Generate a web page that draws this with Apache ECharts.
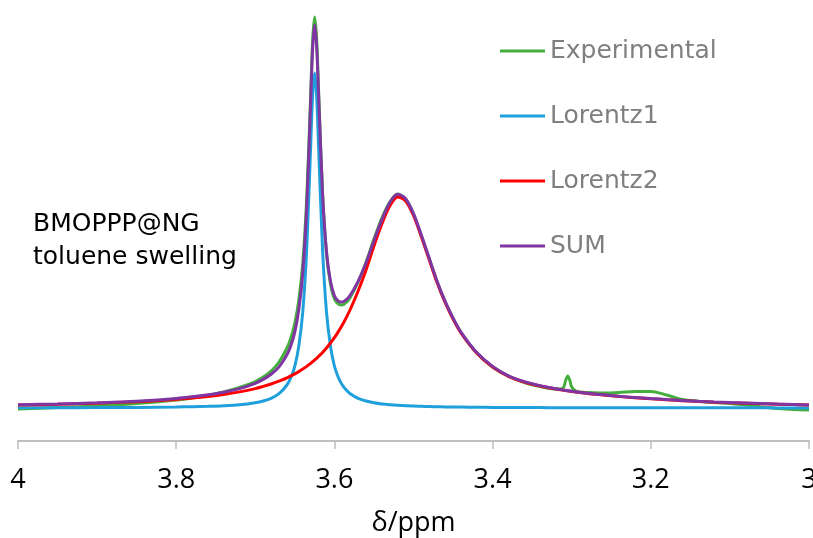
<!DOCTYPE html>
<html>
<head>
<meta charset="utf-8">
<style>
  html, body { margin: 0; padding: 0; background: #fff; overflow: hidden; }
  #chart { width: 813px; height: 538px; }
</style>
<script src="https://cdn.jsdelivr.net/npm/echarts@6/dist/echarts.min.js"></script>
</head>
<body>
<div id="chart"></div>
<script>
// Chemical shift grid (ppm) for fitted curves
var xFit = [4.00,3.95,3.90,3.85,3.80,3.78,3.76,3.74,3.72,3.70,3.69,3.68,3.67,3.66,3.655,3.65,3.645,3.64,3.635,3.63,3.6275,3.625,3.6225,3.62,3.615,3.61,3.605,3.60,3.595,3.59,3.585,3.58,3.57,3.56,3.55,3.54,3.53,3.52,3.51,3.50,3.49,3.48,3.47,3.46,3.45,3.44,3.42,3.40,3.38,3.36,3.34,3.32,3.30,3.28,3.26,3.24,3.22,3.20,3.18,3.16,3.14,3.12,3.10,3.08,3.06,3.04,3.02,3.00];
var lorentz1 = [0.2,0.3,0.4,0.6,1.0,1.3,1.7,2.3,3.3,5.3,7.0,9.7,14.3,23,30.5,42,62,96,159,262,313,335,313,262,159,96,62,42,30.5,23,17.9,14.3,9.7,7.0,5.3,4.1,3.3,2.7,2.3,1.9,1.7,1.4,1.3,1.1,1.0,0.9,0.7,0.6,0.5,0.4,0.4,0.3,0.3,0.3,0.2,0.2,0.2,0.2,0.2,0.2,0.2,0.2,0.2,0.2,0.2,0.1,0.1,0.1];
var lorentz2 = [3.0,3.7,4.8,6.2,8.6,9.9,11.5,13.5,16.1,19.4,21.6,24.0,26.8,30.2,32.1,34.1,36.4,38.9,41.6,44.6,46.3,48.0,49.7,51.6,55.5,60,65,70.3,76.4,83,90.4,98.5,117,138,162,184,202,211,207,192.5,171,148,125,105.5,89,75,54.7,41,31.7,26,22,19,16.5,14.5,13,11.5,10.3,9.2,8.2,7.3,6.5,5.8,5.2,4.7,4.2,3.8,3.4,3.0];
var sumFit = [3.2,4.0,5.2,6.8,9.6,11.2,13.2,15.8,19.4,24.7,28.6,33.7,41.1,53.2,62.6,76.1,98.4,134.9,200.6,306.6,359.3,383,362.7,313.6,214.5,156,127,112.3,106.9,106,108.3,112.8,126.7,145,167.3,188.1,205.3,213.7,209.3,194.4,172.7,149.4,126.3,106.6,90,75.9,55.4,41.6,32.2,26.4,22.4,19.3,16.8,14.8,13.2,11.7,10.5,9.4,8.4,7.5,6.7,6.0,5.4,4.9,4.4,3.9,3.5,3.1];

// Experimental spectrum
var xExp = [4.00,3.95,3.90,3.85,3.80,3.78,3.76,3.74,3.72,3.70,3.69,3.68,3.67,3.66,3.655,3.65,3.645,3.64,3.635,3.63,3.6275,3.625,3.6225,3.62,3.615,3.61,3.605,3.60,3.595,3.59,3.585,3.58,3.57,3.56,3.55,3.54,3.53,3.52,3.51,3.50,3.49,3.48,3.47,3.46,3.45,3.44,3.42,3.40,3.38,3.36,3.34,3.32,3.315,3.31,3.3075,3.305,3.3025,3.30,3.295,3.29,3.28,3.26,3.24,3.22,3.20,3.18,3.16,3.14,3.12,3.10,3.08,3.06,3.04,3.02,3.00];
var yExp = [-1,0.5,2,4.5,8,10,12.5,16,20.5,26.5,31,37,46,60,70,85,108,145,210,314,368,391,370,318,216,155,124,109,104,103,105.5,110.5,126,146,169,190,206,214,209,194,172,149,126,106,89.5,75.5,55,41,32,25.5,21.5,19,19,21,28,32,28,21,17,16,15.5,15,15.5,16.5,16.5,13,8.5,6.8,5.5,4.5,3,1,-0.5,-1.5,-2];

var seriesNames = ['Experimental', 'Lorentz1', 'Lorentz2', 'SUM'];
var seriesColors = ['#45AF3D', '#1F9FDB', '#FF0000', '#7F35A2'];
var annotationLines = ['BMOPPP@NG', 'toluene swelling'];
var xAxisName = 'δ/ppm';

function pairs(xs, ys) {
  var out = [];
  for (var i = 0; i < xs.length; i++) out.push([xs[i], ys[i]]);
  return out;
}

var dataSets = [pairs(xExp, yExp), pairs(xFit, lorentz1), pairs(xFit, lorentz2), pairs(xFit, sumFit)];

var chart = echarts.init(document.getElementById('chart'), null, { renderer: 'canvas', width: 813, height: 538 });
chart.setOption({
  animation: false,
  backgroundColor: '#ffffff',
  grid: { left: 18, right: 4, top: 8, bottom: 97, containLabel: false, outerBoundsMode: 'none' },
  xAxis: {
    type: 'value',
    min: 3, max: 4, interval: 0.2,
    inverse: true,
    name: xAxisName,
    nameLocation: 'middle',
    nameGap: 69,
    nameTextStyle: { fontFamily: 'Open Sans', fontSize: 27, color: '#000000' },
    axisLine: { show: true, onZero: false, lineStyle: { color: '#BFBFBF', width: 2 } },
    axisTick: { show: true, inside: false, length: 8, lineStyle: { color: '#BFBFBF', width: 1.5 } },
    axisLabel: { fontFamily: 'Open Sans', fontSize: 27, color: '#000000', margin: 26 },
    splitLine: { show: false }
  },
  yAxis: { type: 'value', min: -33, max: 400, show: false, splitLine: { show: false } },
  legend: {
    orient: 'vertical',
    left: 495, top: 31,
    itemWidth: 45, itemHeight: 3,
    itemGap: 35,
    icon: 'rect',
    textStyle: { fontFamily: 'DejaVu Sans', fontSize: 25, color: '#7F7F7F', lineHeight: 30 },
    data: seriesNames
  },
  graphic: [{
    type: 'text',
    left: 33, top: 208,
    style: {
      text: annotationLines.join('\n'),
      font: '25px "DejaVu Sans"',
      fill: '#000000',
      lineHeight: 33
    }
  }],
  series: seriesNames.map(function (n, i) {
    return {
      name: n,
      type: 'line',
      data: dataSets[i],
      showSymbol: false,
      symbol: 'none',
      smooth: 0.3,
      color: seriesColors[i],
      lineStyle: { color: seriesColors[i], width: 3 },
      z: 2 + i
    };
  })
});
</script>
</body>
</html>
